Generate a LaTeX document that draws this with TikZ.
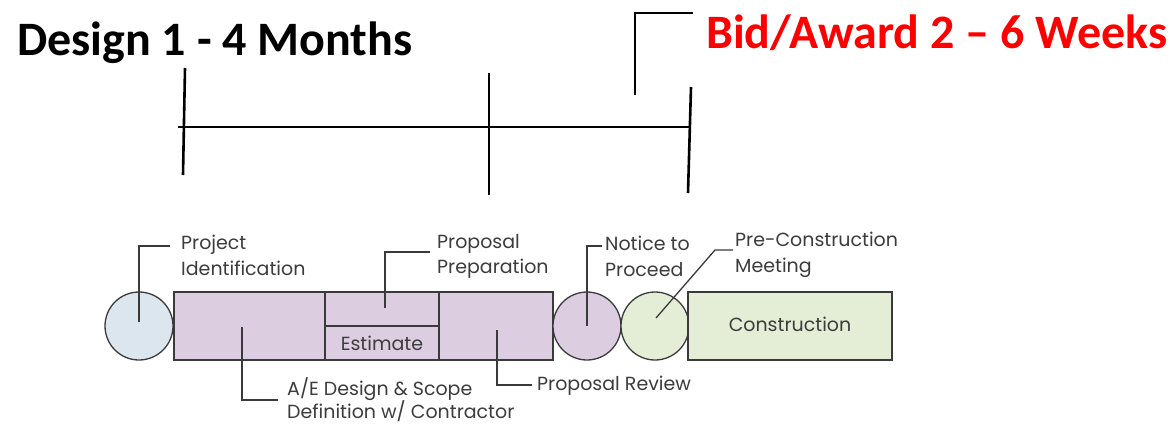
\documentclass[tikz,border=0pt]{standalone}
\usepackage{fontspec}
\setmainfont{Poppins}
\newfontfamily\headfont{Carlito}
\definecolor{bluefill}{HTML}{DCE6EF}
\definecolor{purplefill}{HTML}{DDCDE1}
\definecolor{greenfill}{HTML}{E4EED6}
\definecolor{edgegrey}{HTML}{3A3A3A}
\definecolor{textgrey}{HTML}{3C3C3C}
\definecolor{headred}{HTML}{FF0000}
\tikzset{
  tl/.style={line width=2.6pt, black},
  disc/.style={circle, draw=edgegrey, line width=1.3pt, minimum size=68pt, inner sep=0pt},
  phase/.style={rectangle, draw=edgegrey, line width=1.3pt, minimum height=68pt, inner sep=0pt},
  half/.style={rectangle, draw=edgegrey, line width=1.3pt, minimum height=34pt, minimum width=114pt, inner sep=0pt, fill=purplefill},
  leader/.style={draw=edgegrey, line width=1.3pt},
  lbl/.style={anchor=north west, inner sep=0pt, align=left, text=textgrey, font=\fontsize{19}{26}\selectfont},
  inbox/.style={text=textgrey, inner sep=0pt, font=\fontsize{19}{22}\selectfont},
  head/.style={anchor=base west, inner sep=0pt, font=\headfont\bfseries\fontsize{48}{56}\selectfont},
}
\begin{document}
\begin{tikzpicture}[x=1pt,y=-1pt]
\useasboundingbox[fill=white] (0,0) rectangle (1172,423);
% headings
\node[head] (hdesign) at (17,55) {Design 1 - 4 Months};
\node[head, text=headred] (hbid) at (706,48) {Bid/Award 2 – 6 Weeks};
% timeline
\coordinate (t1a) at (185,68); \coordinate (t1b) at (183,175);
\coordinate (t2a) at (489,73); \coordinate (t2b) at (489,195);
\coordinate (t3a) at (691,87); \coordinate (t3b) at (688,193);
\coordinate (hl) at (178,127); \coordinate (hr) at (691,127);
\coordinate (ba) at (635,95); \coordinate (bb) at (635,13); \coordinate (bc) at (693,13);
\draw[tl] (t1a) -- (t1b);
\draw[tl] (t2a) -- (t2b);
\draw[tl] (t3a) -- (t3b);
\draw[tl] (hl) -- (hr);
\draw[tl] (ba) -- (bb) -- (bc);
% process chain
\node[disc, fill=bluefill] (c1) at (139,326) {};
\node[phase, fill=purplefill, minimum width=151pt] (r1) at (249.5,326) {};
\node[half] (etop) at (382,309) {};
\node[half] (ebot) at (382,343) {};
\node[inbox] (etext) at (382,343) {Estimate};
\node[phase, fill=purplefill, minimum width=114pt] (r3) at (496,326) {};
\node[disc, fill=purplefill] (c2) at (587,326) {};
\node[disc, fill=greenfill] (c3) at (655,326) {};
\node[phase, fill=greenfill, minimum width=204pt] (con) at (790,326) {};
\node[inbox] (context) at (790,324) {Construction};
% labels
\node[lbl] (lproj) at (181,235) {Project\\Identification};
\node[lbl] (lae) at (287,377) {A/E Design \& Scope\\[-3pt]Definition w/ Contractor};
\node[lbl] (lpp) at (437,234) {Proposal\\[-1pt]Preparation};
\node[lbl] (lpr) at (537,376) {Proposal Review};
\node[lbl] (lntp) at (605,236) {Notice to\\Proceed};
\node[lbl] (lpc) at (735,232) {Pre-Construction\\Meeting};
% leaders
\coordinate (p1) at (139,322); \coordinate (p1e) at (170,246);
\coordinate (p2) at (242,327); \coordinate (p2e) at (278,400);
\coordinate (p3) at (385,308); \coordinate (p3e) at (430,252);
\coordinate (p4) at (497,330); \coordinate (p4e) at (532,385);
\coordinate (p5) at (587,326); \coordinate (p5e) at (602,246);
\coordinate (p6) at (656,318); \coordinate (p6m) at (715,250); \coordinate (p6e) at (733,250);
\draw[leader] (p1) |- (p1e);
\draw[leader] (p2) |- (p2e);
\draw[leader] (p3) |- (p3e);
\draw[leader] (p4) |- (p4e);
\draw[leader] (p5) |- (p5e);
\draw[leader] (p6) -- (p6m) -- (p6e);
\end{tikzpicture}
\end{document}
